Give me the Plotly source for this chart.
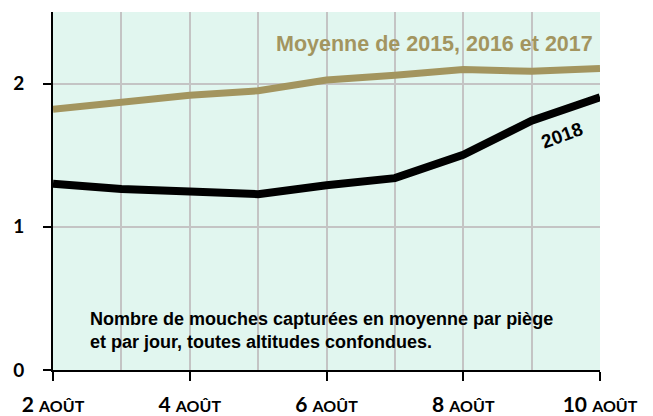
import plotly.graph_objects as go

days = [2, 3, 4, 5, 6, 7, 8, 9, 10]
moyenne_2015_2017 = [1.82, 1.865, 1.918, 1.95, 2.025, 2.058, 2.098, 2.086, 2.105]
serie_2018 = [1.30, 1.264, 1.247, 1.228, 1.29, 1.34, 1.503, 1.741, 1.904]
tick_days = [2, 4, 6, 8, 10]
tick_labels = ["<b>%d <span style='font-size:16px'>AOÛT</span></b>" % d for d in tick_days]
y_ticks = [0, 1, 2]
y_labels = ["<b>0</b>", "<b>1</b>", "<b>2</b>"]

gold = "#a3955f"

fig = go.Figure()
fig.add_trace(go.Scatter(x=days, y=moyenne_2015_2017, mode="lines",
                         line=dict(color=gold, width=7), showlegend=False))
fig.add_trace(go.Scatter(x=days, y=serie_2018, mode="lines",
                         line=dict(color="black", width=8), showlegend=False))

fig.update_layout(
    width=645, height=414,
    margin=dict(l=45, r=53, t=4, b=52),
    paper_bgcolor="white",
    plot_bgcolor="#e1f6ef",
    font=dict(family="Lato", color="black"),
    xaxis=dict(range=[2, 10], tickvals=tick_days, ticktext=tick_labels,
               showgrid=True, gridcolor="#c4c4c4", gridwidth=2,
               minor=dict(dtick=1, tick0=2, showgrid=True, gridcolor="#c4c4c4", gridwidth=2),
               ticks="outside", ticklen=9, tickwidth=2, tickcolor="black",
               showline=True, linecolor="black", linewidth=2,
               tickfont=dict(size=21, family="Lato"), zeroline=False,
               ticklabelstandoff=6),
    yaxis=dict(range=[0, 2.5], tickvals=y_ticks, ticktext=y_labels,
               showgrid=True, gridcolor="#c4c4c4", gridwidth=2,
               ticks="outside", ticklen=8, tickwidth=2, tickcolor="black",
               showline=True, linecolor="black", linewidth=2,
               tickfont=dict(size=19, family="Lato"), zeroline=False,
               ticklabelstandoff=15),
)

fig.add_annotation(x=9.93, y=2.275, xref="x", yref="y", text="<b>Moyenne de 2015, 2016 et 2017</b>",
                   showarrow=False, font=dict(family="Liberation Sans", size=21.5, color=gold),
                   xanchor="right", yanchor="middle")
fig.add_annotation(text="<b>2018</b>", x=9.44, y=1.635, xref="x", yref="y", showarrow=False,
                   textangle=-20, font=dict(family="Liberation Sans", size=19, color="black"))
fig.add_annotation(text="<b>Nombre de mouches capturées en moyenne par piège<br>et par jour, toutes altitudes confondues.</b>",
                   x=2.51, y=0.278, xref="x", yref="y", showarrow=False, align="left",
                   xanchor="left", yanchor="middle",
                   font=dict(family="Liberation Sans", size=18, color="black"))

fig.write_html("out.html")
